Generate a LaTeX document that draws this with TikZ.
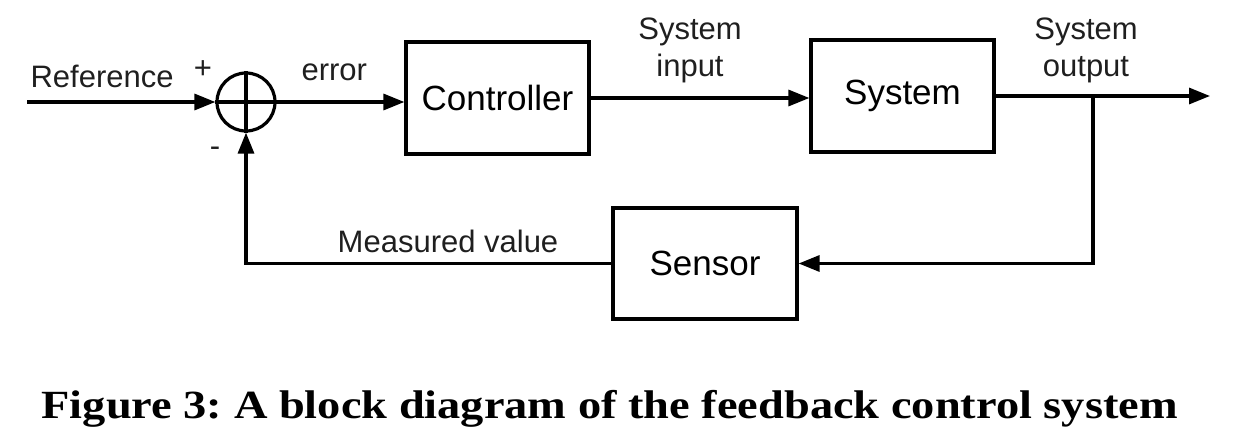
\documentclass[tikz,border=0pt]{standalone}
\usepackage{fontspec}
\setmainfont{Liberation Sans}
\newfontfamily\capfont{Liberation Serif}
\usetikzlibrary{arrows.meta}
\begin{document}
\begin{tikzpicture}[x=1pt,y=-1pt,
  line width=3.2pt,
  arr/.style={-{Triangle[length=21pt,width=16pt]}},
  block/.style={draw, rectangle, inner sep=0pt, font=\fontsize{35}{40}\selectfont},
  lbl/.style={inner sep=0pt, font=\fontsize{31}{36}\selectfont, align=center, text=black!88}]
\useasboundingbox (0,0) rectangle (1260,444);
% blocks
\node[circle, draw, minimum size=58pt, inner sep=0pt] (sum) at (246,102) {};
\draw (sum.north) -- (sum.south);
\draw (sum.west) -- (sum.east);
\node[block, minimum width=183pt, minimum height=112pt] (ctrl) at (497.5,98) {Controller};
\node[block, minimum width=183pt, minimum height=112pt] (sys) at (902.5,96) {System};
\node[block, minimum width=184pt, minimum height=111pt] (sens) at (705,263.5) {Sensor};
% coordinates
\coordinate (in) at (27,102);
\coordinate (out) at (1210,96);
\coordinate (br) at (1093,96);
% connectors
\draw[arr] (in) -- (sum.west);
\draw[arr] (sum.east) -- (sum.east -| ctrl.west);
\draw[arr] (ctrl.east) -- (ctrl.east -| sys.west);
\draw[arr] (sys.east) -- (out);
\draw[arr] (br) |- (sens.east);
\draw[arr] (sens.west) -| (sum.south);
% labels
\node[lbl, anchor=base west] (lref) at (29,87) {Reference};
\node[lbl] (lplus) at (203,70) {+};
\node[lbl] (lminus) at (215,152) {-};
\node[lbl, anchor=base west] (lerr) at (300,81) {error};
\node[lbl, anchor=base] (lin) at (690,76) {System\\input};
\node[lbl, anchor=base] (lout) at (1086,76) {System\\output};
\node[lbl, anchor=base] (lmeas) at (448,252) {Measured value};
\node[inner sep=0pt, anchor=base west] (cap) at (40,418) {\scalebox{1.16}[1]{\capfont\bfseries\frenchspacing\fontsize{40}{44}\selectfont Figure 3: A block diagram of the feedback control system}};
\end{tikzpicture}
\end{document}
